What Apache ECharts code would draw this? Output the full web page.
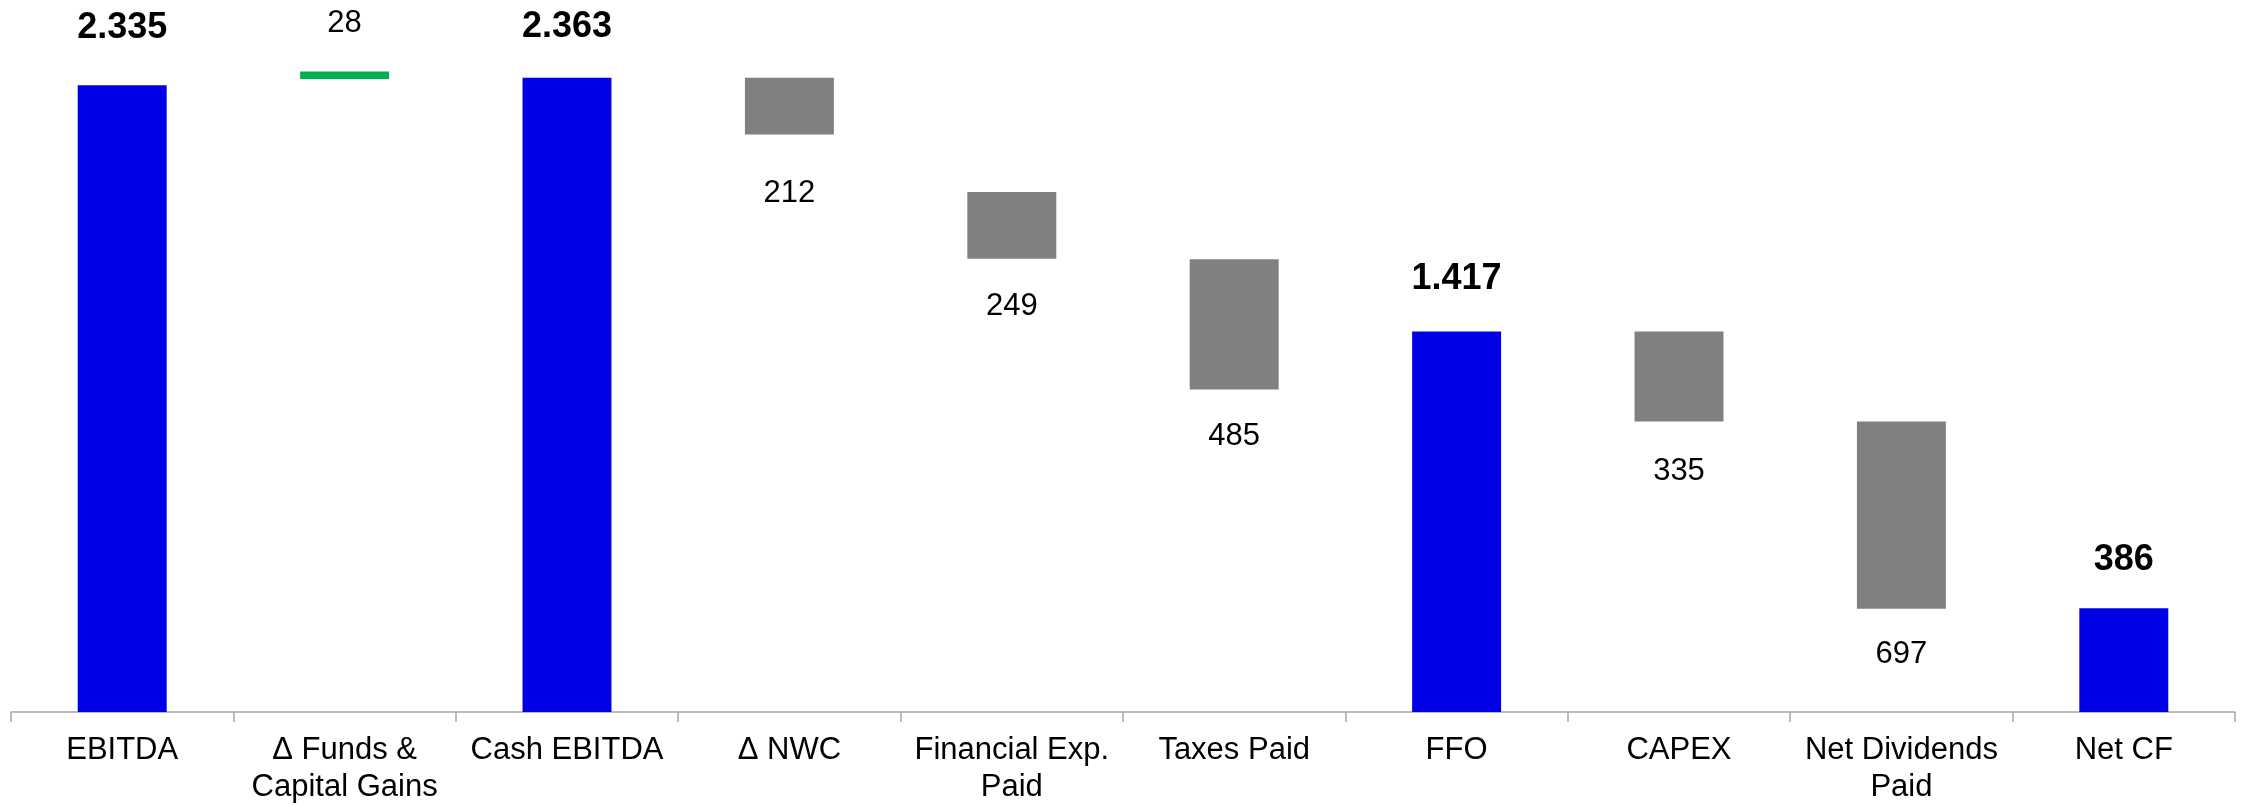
<!DOCTYPE html>
<html>
<head>
<meta charset="utf-8">
<title>Cash Flow Waterfall</title>
<script src="https://cdn.jsdelivr.net/npm/echarts@6.0.0/dist/echarts.min.js"></script>
<style>
    html, body { margin: 0; padding: 0; background: #fff; }
    #waterfall { width: 2244px; height: 806px; }
</style>
</head>
<body>
<div id="waterfall"></div>
<script>
// data
var categories = ['EBITDA', 'Δ Funds &\nCapital Gains', 'Cash EBITDA', 'Δ NWC', 'Financial Exp.\nPaid',
    'Taxes Paid', 'FFO', 'CAPEX', 'Net Dividends\nPaid', 'Net CF'];
var values = [2335, 28, 2363, -212, -249, -485, 1417, -335, -697, 386];
var kinds = ['total', 'up', 'total', 'down', 'down', 'down', 'total', 'down', 'down', 'total'];
// where each floating bar starts (its lower end), as drawn in the picture
var barLow = [0, 2358, 0, 2151, 1688, 1201, 0, 1082, 385, 0];

var colors = { total: '#0000e6', up: '#00b050', down: '#808080' };
var fontName = '"Liberation Sans", Arial, sans-serif';

function fmt(v) {
    // 2335 -> 2.335
    return String(Math.abs(v)).replace(/\B(?=(\d{3})+(?!\d))/g, '.');
}

function buildSeries() {
    // label gaps as they sit in the original
    var gap = [39, 32, 33, 43, 32, 31, 35, 34, 30, 30];
    var base = [];
    var shown = [];
    for (var i = 0; i < values.length; i++) {
        var v = values[i];
        var k = kinds[i];
        base.push(barLow[i]);
        var lbl;
        if (k == 'total') {
            lbl = { position: 'top', fontWeight: 'bold', fontSize: 36 };
        } else if (k == 'up') {
            lbl = { position: 'top', fontSize: 31 };
        } else {
            lbl = { position: 'bottom', fontSize: 31 };
        }
        lbl.show = true;
        lbl.distance = gap[i];
        lbl.color = '#000';
        lbl.fontFamily = fontName;
        lbl.formatter = fmt(v);
        shown.push({ value: Math.abs(v), itemStyle: { color: colors[k] }, label: lbl });
    }
    return { base: base, shown: shown };
}

function setOption() {
    var s = buildSeries();
    var option = {
        animation: false,
        backgroundColor: '#ffffff',
        grid: { left: 11, right: 9, top: 14, bottom: 93 },
        xAxis: {
            type: 'category',
            data: categories,
            axisLine: { show: true, lineStyle: { color: '#a6a6a6', width: 1.5 } },
            axisTick: { show: true, interval: 0, length: 10, lineStyle: { color: '#a6a6a6', width: 1.5 } },
            axisLabel: {
                interval: 0,
                margin: 20,
                color: '#000',
                fontSize: 31,
                lineHeight: 37,
                fontFamily: fontName
            }
        },
        yAxis: {
            type: 'value',
            show: false,
            min: 0,
            max: 2600,
            splitLine: { show: false }
        },
        series: [
            {
                name: 'base',
                type: 'bar',
                stack: 'wf',
                barWidth: '40%',
                silent: true,
                itemStyle: { color: 'transparent' },
                data: s.base
            },
            {
                name: 'value',
                type: 'bar',
                stack: 'wf',
                barWidth: '40%',
                data: s.shown
            }
        ]
    };
    return option;
}

var chart = echarts.init(document.getElementById('waterfall'), null, { renderer: 'canvas' });
chart.setOption(setOption());
</script>
</body>
</html>
